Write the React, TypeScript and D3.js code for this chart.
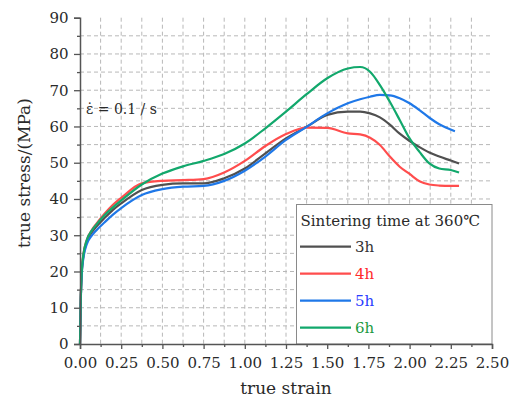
import React, { useEffect, useRef } from "react";
import * as d3 from "d3";

// true strain sampling points (shared by 3h, 4h, 6h)
const strain = [0, 0.005, 0.01, 0.02, 0.04, 0.07, 0.1, 0.15, 0.2, 0.25, 0.375, 0.5, 0.625, 0.75, 0.875, 1.0, 1.125, 1.25, 1.375, 1.5, 1.625, 1.7, 1.76, 1.82, 1.88, 1.94, 2.0, 2.06, 2.12, 2.18, 2.25, 2.3];
const strain5h = [0, 0.005, 0.01, 0.02, 0.04, 0.07, 0.1, 0.15, 0.2, 0.25, 0.375, 0.5, 0.625, 0.75, 0.875, 1.0, 1.125, 1.25, 1.375, 1.5, 1.625, 1.7, 1.76, 1.82, 1.88, 1.94, 2.0, 2.06, 2.12, 2.18, 2.275];

const stress3h = [0, 13, 19.3, 24, 28, 30.7, 32.4, 34.8, 37, 38.8, 42.5, 43.9, 44.3, 44.3, 45.7, 48.4, 52.6, 56.7, 59.9, 63.2, 64.1, 64.1, 63.6, 62.5, 60.5, 58, 56, 54.3, 52.8, 51.7, 50.6, 49.8];
const stress4h = [0, 13, 19.5, 24.5, 28.5, 31.3, 33.2, 36, 38.4, 40.3, 44.3, 45, 45.2, 45.5, 47.3, 50.5, 54.6, 57.9, 59.7, 59.6, 58.1, 57.8, 56.9, 54.9, 51.7, 48.9, 46.9, 44.9, 44, 43.7, 43.6, 43.6];
const stress5h = [0, 12.5, 18.8, 23.5, 27.4, 29.8, 31.4, 33.6, 35.7, 37.5, 41.1, 42.7, 43.4, 43.6, 45, 47.8, 51.7, 56.3, 59.9, 63.6, 66.4, 67.5, 68.2, 68.7, 68.6, 67.8, 66.4, 64.5, 62.4, 60.6, 58.7];
const stress6h = [0, 13, 19.5, 24.5, 28.5, 31.2, 33, 35.6, 37.7, 39.6, 44, 47, 49, 50.5, 52.4, 55.3, 59.5, 64.1, 68.9, 73.3, 76, 76.4, 75.1, 71.4, 66.8, 61.8, 56.7, 53, 49.8, 48.4, 48, 47.3];

const seriesNames = ["3h", "4h", "5h", "6h"];
const lineColors = ["#505050", "#ff4d4d", "#1f78e8", "#12a86c"];
const textColors = ["#333333", "#ff2a2a", "#2a3cff", "#1a9a40"];

const xTicks = [0, 0.25, 0.5, 0.75, 1.0, 1.25, 1.5, 1.75, 2.0, 2.25, 2.5];
const yTicks = [0, 10, 20, 30, 40, 50, 60, 70, 80, 90];

export default function App() {
  const ref = useRef<SVGSVGElement>(null);
  useEffect(() => {
    const node = ref.current; if (!node) return;
    const svg = d3.select(node);
    svg.selectAll("*").remove();
    const W = 518, H = 401, m = { t: 17.7, r: 26, b: 57, l: 80 };
    const font = "'DejaVu Serif', serif";
    const x = d3.scaleLinear().domain([0, 2.5]).range([m.l, W - m.r]);
    const y = d3.scaleLinear().domain([0, 90]).range([H - m.b, m.t]);

    // dashed grid every 0.125 / 5, none on the last line
    const gx = d3.range(1, 20).map((i) => i * 0.125);
    const gy = d3.range(1, 18).map((i) => i * 5);
    const grid = svg.append("g").attr("stroke", "#b8b8b8").attr("stroke-dasharray", "4,3").attr("stroke-width", 1);
    grid.selectAll("line.v").data(gx).join("line").attr("class", "v")
      .attr("x1", (d) => x(d)).attr("x2", (d) => x(d)).attr("y1", y(90)).attr("y2", y(0));
    grid.selectAll("line.h").data(gy).join("line").attr("class", "h")
      .attr("x1", x(0)).attr("x2", x(2.5)).attr("y1", (d) => y(d)).attr("y2", (d) => y(d));

    // curves
    const sets = [
      { xs: strain, ys: stress3h },
      { xs: strain, ys: stress4h },
      { xs: strain5h, ys: stress5h },
      { xs: strain, ys: stress6h },
    ];
    const line = d3.line<[number, number]>().x((d) => x(d[0])).y((d) => y(d[1])).curve(d3.curveMonotoneX);
    sets.forEach((s, i) => {
      const pts = s.xs.map((v, j) => [v, s.ys[j]] as [number, number]);
      svg.append("path").datum(pts).attr("fill", "none").attr("stroke", lineColors[i])
        .attr("stroke-width", 2.2).attr("stroke-linejoin", "round").attr("d", line);
    });

    // legend
    const lg = svg.append("g");
    lg.append("rect").attr("x", 296.5).attr("y", 204.5).attr("width", x(2.5) - 296.5).attr("height", y(0) - 204.5)
      .attr("fill", "white").attr("stroke", "#8a8a8a").attr("stroke-width", 1);
    lg.append("text").attr("x", 300.5).attr("y", 226).attr("font-family", font).attr("font-size", 15)
      .attr("fill", "#2a2a2a").text("Sintering time at 360℃");
    seriesNames.forEach((nm, i) => {
      const ly = 246.7 + i * 27;
      lg.append("line").attr("x1", 300).attr("x2", 351).attr("y1", ly).attr("y2", ly)
        .attr("stroke", lineColors[i]).attr("stroke-width", 2.2);
      lg.append("text").attr("x", 355).attr("y", ly + 5.5).attr("font-family", font).attr("font-size", 15)
        .attr("fill", textColors[i]).text(nm);
    });

    // axes
    const ax = svg.append("g").attr("transform", `translate(0,${y(0)})`)
      .call(d3.axisBottom(x).tickValues(xTicks).tickSize(5).tickPadding(8.4).tickFormat(d3.format(".2f")));
    svg.append("g").attr("transform", `translate(0,${y(0)})`)
      .call(d3.axisBottom(x).tickValues(xTicks.slice(0, -1).map((d) => d + 0.125)).tickSize(3).tickFormat(() => ""))
      .select(".domain").remove();
    const ay = svg.append("g").attr("transform", `translate(${m.l},0)`)
      .call(d3.axisLeft(y).tickValues(yTicks).tickSize(6).tickPadding(5.5));
    svg.append("g").attr("transform", `translate(${m.l},0)`)
      .call(d3.axisLeft(y).tickValues(yTicks.slice(0, -1).map((d) => d + 5)).tickSize(3).tickFormat(() => ""))
      .select(".domain").remove();
    svg.selectAll(".tick line").attr("stroke", "#555").attr("stroke-width", 1.3);
    svg.selectAll(".domain").attr("stroke", "#555").attr("stroke-width", 1.5);
    [ax, ay].forEach((g) => g.selectAll("text").attr("font-family", font).attr("font-size", 15).attr("fill", "#2a2a2a"));

    // labels
    svg.append("text").attr("x", 86).attr("y", 114).attr("font-family", font).attr("font-size", 14)
      .attr("fill", "#2a2a2a").text("ε\u0307 = 0.1 / s");
    svg.append("text").attr("x", x(1.25)).attr("y", 394).attr("text-anchor", "middle").attr("font-family", font)
      .attr("font-size", 17).attr("fill", "#2a2a2a").text("true strain");
    svg.append("text").attr("transform", `translate(30,${173}) rotate(-90)`).attr("text-anchor", "middle")
      .attr("font-family", font).attr("font-size", 17).attr("fill", "#2a2a2a").text("true stress/(MPa)");
  }, []);
  return (
    <svg ref={ref} width={518} height={401} viewBox="0 0 518 401"
      style={{ position: "absolute", left: 0, top: 0, background: "white" }} />
  );
}
